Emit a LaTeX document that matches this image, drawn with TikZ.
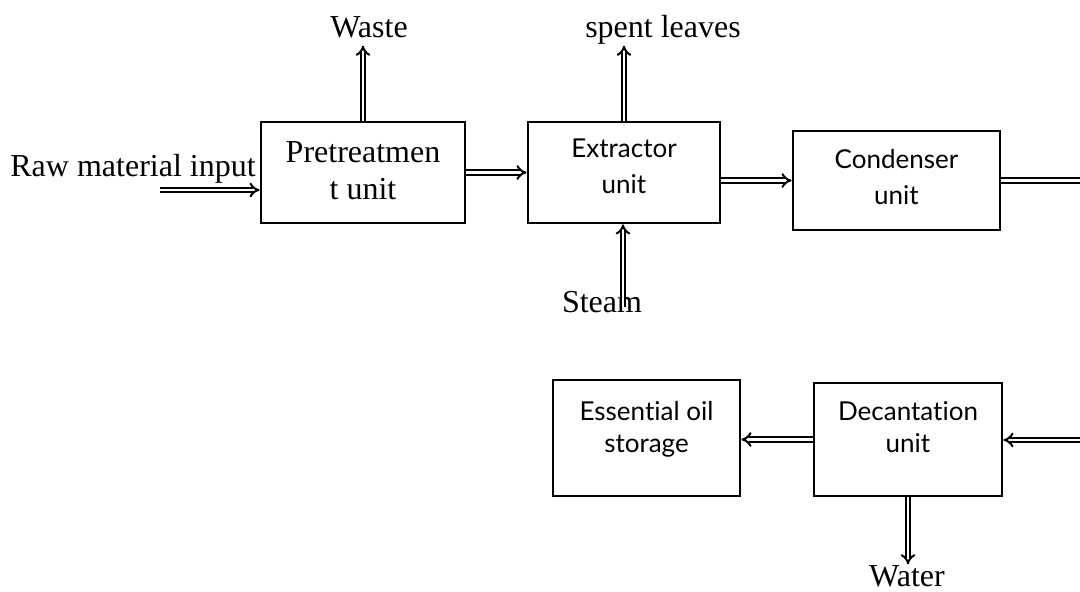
\documentclass[tikz,border=0pt]{standalone}
\usepackage{fontspec}
\setmainfont{Liberation Serif}
\newfontfamily\boxfamily{Lato}[Ligatures={NoCommon}]
\usetikzlibrary{arrows.meta}
\begin{document}
\begin{tikzpicture}[x=0.5pt,y=-0.5pt,
  box/.style={draw, line width=1.35pt, inner sep=0pt},
  lbl/.style={font=\fontsize{16}{18.5}\selectfont, inner sep=0pt, anchor=base},
  btxt/.style={font=\boxfamily\fontsize{13}{18}\selectfont, align=center, inner sep=0pt, anchor=base},
  flow/.style={double, line width=1pt, double distance=1.4pt, -{Implies[scale=1.4]}},
  flowplain/.style={double, line width=1pt, double distance=1.4pt}]
\useasboundingbox (0,0) rectangle (1080,592);
% boxes
\node[box, minimum width=102pt, minimum height=50.5pt] (pre) at (363,172.5) {};
\node[box, minimum width=96pt, minimum height=50.5pt] (ext) at (624,172.5) {};
\node[box, minimum width=103.5pt, minimum height=49.5pt] (cond) at (896.5,180.5) {};
\node[box, minimum width=93.5pt, minimum height=58pt] (sto) at (646.5,438) {};
\node[box, minimum width=94pt, minimum height=56.5pt] (dec) at (908,439.5) {};
% box texts (anchor base = baseline of last line)
\node[lbl, align=center] (pret) at (363,200) {Pretreatmen\\t unit};
\node[btxt] (extt) at (624,194) {Extractor\\unit};
\node[btxt] (condt) at (896.5,205) {Condenser\\unit};
\node[btxt, font=\boxfamily\fontsize{13}{16}\selectfont] (stot) at (646.5,452) {Essential oil\\storage};
\node[btxt, font=\boxfamily\fontsize{13}{16}\selectfont] (dect) at (908,452) {Decantation\\unit};
% labels
\node[lbl, anchor=base west] (raw) at (10,177) {Raw material input};
\node[lbl] (waste) at (369,38) {Waste};
\node[lbl] (spent) at (663,38) {spent leaves};
\node[lbl] (steam) at (602,313) {Steam};
\node[lbl] (water) at (907,586) {Water};
% free ends
\coordinate (rawin) at (160,190);
\coordinate (condout) at (1080,180.5);
\coordinate (decin) at (1080,440);
\coordinate (steamin) at (623,307);
% connectors
\draw[flow] (rawin) -- (pre.west |- rawin);
\draw[flow] (pre.east) -- (ext.west);
\draw[flow] (ext.east |- cond.west) -- (cond.west);
\draw[flowplain] (cond.east) -- (condout);
\draw[flow] (pre.north) -- ++(0,-75);
\draw[flow] (ext.north) -- ++(0,-75);
\draw[flow] (steamin) -- (steamin |- ext.south);
\draw[flow] (decin) -- (decin -| dec.east);
\draw[flow] (dec.west) -- (sto.east |- dec.west);
\draw[flow] (dec.south) -- ++(0,67);
\end{tikzpicture}
\end{document}
